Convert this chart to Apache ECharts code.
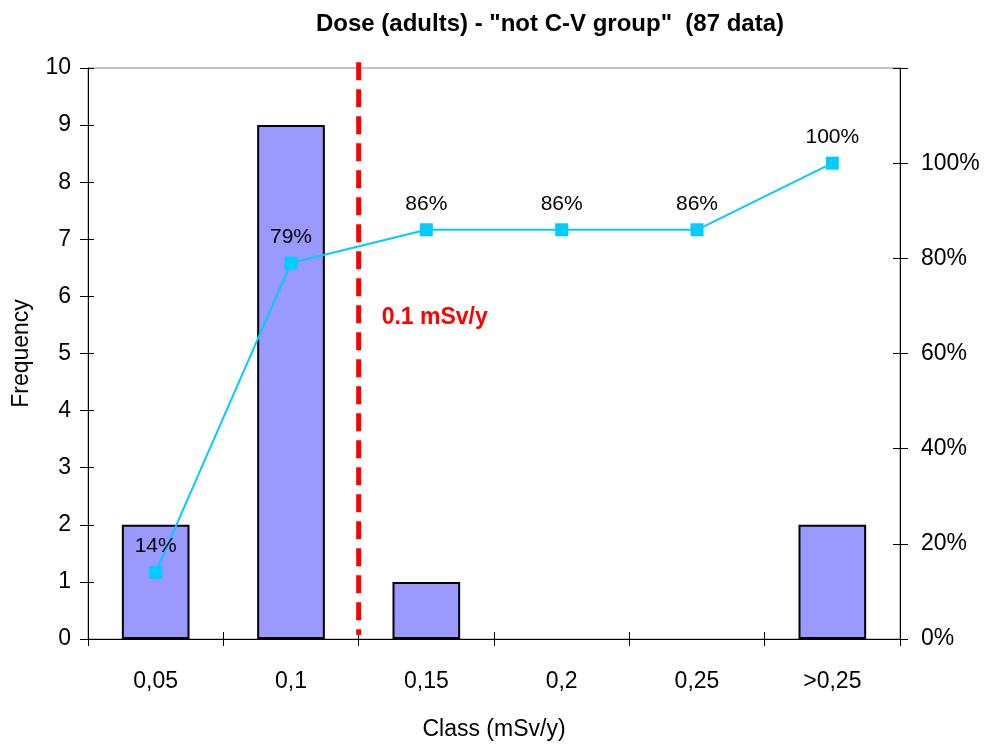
<!DOCTYPE html>
<html>
<head>
<meta charset="utf-8">
<script src="https://cdn.jsdelivr.net/npm/echarts@6/dist/echarts.min.js"></script>
<style>
  html, body { margin: 0; padding: 0; background: #fff; }
  #chart { width: 986px; height: 747px; }
</style>
</head>
<body>
<div id="chart"></div>
<script>
// Dose classes (mSv/y) and their counts
const classes = ['0,05', '0,1', '0,15', '0,2', '0,25', '>0,25'];
const frequency = [2, 9, 1, 0, 0, 2];
// Cumulative share of the sample, in percent
const cumulative = [14, 79, 86, 86, 86, 100];
// Reference level sits on the boundary after the 2nd class; [x, y] ends of the dashed marker
const thresholdLine = [[2, 10.1], [2, 0.07]];
const thresholdText = '0.1 mSv/y';

const FONT = 'Liberation Sans, Arial, sans-serif';
const chart = echarts.init(document.getElementById('chart'));

const tickStyle = { color: '#000', width: 1 };
const pctFormatter = v => (v > 100 ? '' : v + '%');

// empty classes get no outline
const barData = frequency.map(v => (v === 0 ? { value: v, itemStyle: { borderWidth: 0 } } : v));

chart.setOption({
  animation: false,
  textStyle: { fontFamily: FONT },
  title: {
    text: 'Dose (adults) - "not C-V group"  (87 data)',
    left: 545, top: 7, textAlign: 'center',
    textStyle: { fontFamily: FONT, fontSize: 24, fontWeight: 'bold', color: '#000' }
  },
  grid: {
    left: 88, right: 86, top: 68, bottom: 108,
    show: true, borderColor: '#888', borderWidth: 1, backgroundColor: 'transparent'
  },
  xAxis: [
    {
      type: 'category', data: classes, position: 'bottom',
      axisLine: { lineStyle: { color: '#000', width: 1 } },
      axisTick: { show: true, length: 7, lineStyle: tickStyle },
      axisLabel: { color: '#000', fontSize: 23, margin: 31, fontFamily: FONT },
      name: 'Class (mSv/y)', nameLocation: 'middle', nameGap: 79,
      nameTextStyle: { color: '#000', fontSize: 23, fontFamily: FONT }
    },
    {
      // inner half of the crossing ticks
      type: 'category', data: classes, position: 'bottom',
      axisLine: { show: false },
      axisTick: { show: true, inside: true, length: 7, lineStyle: tickStyle },
      axisLabel: { show: false }
    },
    {
      // continuous scale over the class bands for the reference marker
      type: 'value', min: 0, max: 6, show: false
    }
  ],
  yAxis: [
    {
      type: 'value', min: 0, max: 10, interval: 1, position: 'left',
      axisLine: { show: true, lineStyle: { color: '#000', width: 1 } },
      axisTick: { show: true, length: 8, lineStyle: tickStyle },
      axisLabel: { color: '#000', fontSize: 23, margin: 17, fontFamily: FONT },
      splitLine: { show: false },
      name: 'Frequency', nameLocation: 'middle', nameGap: 55, nameRotate: 90,
      nameTextStyle: { color: '#000', fontSize: 23, fontFamily: FONT }
    },
    {
      type: 'value', min: 0, max: 120, interval: 20, position: 'right',
      axisLine: { show: true, lineStyle: { color: '#000', width: 1 } },
      axisTick: { show: true, length: 8, lineStyle: tickStyle },
      axisLabel: { color: '#000', fontSize: 23, margin: 21, formatter: pctFormatter, fontFamily: FONT },
      splitLine: { show: false }
    },
    {
      type: 'value', min: 0, max: 10, interval: 1, position: 'left',
      axisLine: { show: false },
      axisTick: { show: true, inside: true, length: 6, lineStyle: tickStyle },
      axisLabel: { show: false }, splitLine: { show: false }
    },
    {
      type: 'value', min: 0, max: 120, interval: 20, position: 'right',
      axisLine: { show: false },
      axisTick: { show: true, inside: true, length: 7, lineStyle: tickStyle },
      axisLabel: { show: false }, splitLine: { show: false }
    }
  ],
  series: [
    {
      name: 'Frequency', type: 'bar', xAxisIndex: 0, yAxisIndex: 0,
      data: barData, barWidth: '50%',
      itemStyle: { color: '#9999FF', borderColor: '#000', borderWidth: 2 }
    },
    {
      name: 'Cumulative', type: 'line', xAxisIndex: 0, yAxisIndex: 1,
      data: cumulative, symbol: 'rect', symbolSize: 13,
      lineStyle: { color: '#00CCFF', width: 2 },
      itemStyle: { color: '#00CCFF' },
      label: {
        show: true, position: 'top', distance: 9, color: '#000',
        fontSize: 21, fontFamily: FONT, formatter: p => p.value + '%'
      },
      z: 5
    },
    {
      name: 'Reference', type: 'line', xAxisIndex: 2, yAxisIndex: 0,
      data: thresholdLine, symbol: 'none', clip: false,
      lineStyle: { color: '#FF0000', width: 5, type: [18, 9] },
      z: 4
    }
  ]
});

// label beside the reference marker
const pt = chart.convertToPixel({ xAxisIndex: 2, yAxisIndex: 0 }, [2, 5.7]);
chart.setOption({
  graphic: [{
    type: 'text', left: pt[0] + 23, top: pt[1] - 7,
    style: { text: thresholdText, fill: '#FF0000', font: 'bold 23px ' + FONT }
  }]
});
</script>
</body>
</html>
